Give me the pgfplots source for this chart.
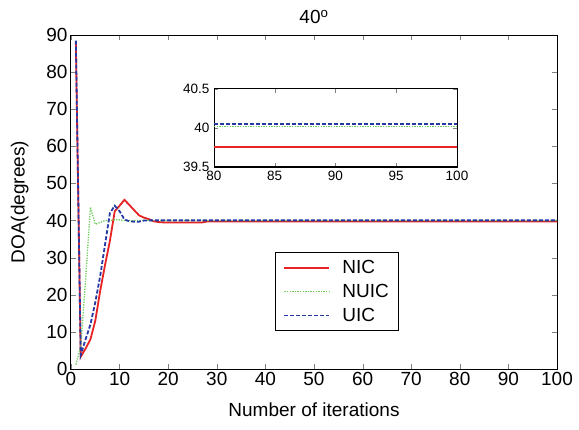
\documentclass[border=0pt]{standalone}
\usepackage{pgfplots}
\pgfplotsset{compat=1.18}
\usepackage{fontspec}
\setmainfont{Liberation Sans}
\definecolor{cred}{RGB}{232,35,35}
\definecolor{cgreen}{RGB}{110,205,90}
\definecolor{cblue}{RGB}{35,55,165}
\begin{document}
\begin{tikzpicture}
\begin{axis}[name=main,
  scale only axis, width=486pt, height=334pt,
  xmin=0, xmax=100, ymin=0, ymax=90,
  xtick={0,10,...,100}, ytick={0,10,...,90},
  tick align=inside, major tick length=5pt,
  xtick pos=both, ytick pos=both,
  axis line style={line width=1pt},
  /pgf/number format/assume math mode=true,
  tick label style={font=\fontsize{19}{22}\selectfont},
  label style={font=\fontsize{19}{22}\selectfont},
  title style={font=\fontsize{19}{22}\selectfont, yshift=2pt},
  title={40\textsuperscript{o}},
  xlabel={Number of iterations},
  ylabel={DOA(degrees)},
  xlabel shift=10pt,
  ylabel shift=11pt,
  legend style={at={(0.42,0.35)}, anchor=north west, font=\fontsize{19}{22}\selectfont, draw=black, line width=0.8pt, row sep=5pt, inner xsep=8pt, inner ysep=6pt,
    /tikz/every odd column/.append style={column sep=10pt}},
  legend cell align=left,
  legend image code/.code={\draw[#1] (0pt,0pt) -- (45pt,0pt);},
]
\addplot[color=cred, line width=1.8pt] coordinates {
(1,88) (2,3.3) (3,5.5) (4,8) (5,13) (6,21) (7,28) (8,34.5) (9,42.5) (10,44) (11,45.6) (12,44.2) (13,42.8) (14,41.4) (15,40.8) (16,40.4) (17,39.8) (18,39.6) (19,39.5) (27,39.5) (28,39.75) (100,39.75)};
\addlegendentry{NIC}
\addplot[color=cgreen, line width=1.3pt, dash pattern=on 1.3pt off 1.3pt] coordinates {
(1,1.2) (2,6) (3,24) (4,43.6) (5,39) (6,39.5) (7,40) (8,40) (9,40.2) (10,40.2) (11,40) (100,40.02)};
\addlegendentry{NUIC}
\addplot[color=cblue, line width=1.8pt, dash pattern=on 4pt off 2pt] coordinates {
(1,88.5) (2,3.8) (3,8) (4,12) (5,18) (6,25) (7,33.5) (8,42) (9,44) (10,42.5) (11,40.3) (12,39.8) (13,39.7) (14,39.7) (15,40) (16,40.05) (100,40.05)};
\addlegendentry{UIC}
\end{axis}
\begin{axis}[
  at={(main.south west)}, anchor=south west, xshift=143pt, yshift=202pt,
  scale only axis, width=243pt, height=78pt,
  xmin=80, xmax=100, ymin=39.5, ymax=40.5,
  xtick={80,85,...,100}, ytick={39.5,40,40.5},
  tick align=inside, major tick length=4pt,
  xtick pos=both, ytick pos=both,
  axis line style={line width=1pt},
  /pgf/number format/assume math mode=true,
  yticklabel style={/pgf/number format/fixed, /pgf/number format/precision=1, xshift=-1pt},
  xticklabel style={yshift=-1pt},
  tick label style={font=\fontsize{13.5}{16}\selectfont},
  axis background/.style={fill=white},
]
\addplot[color=cred, line width=2pt] coordinates {(80,39.75) (100,39.75)};
\addplot[color=cgreen, line width=1.3pt, dash pattern=on 1.3pt off 1.3pt] coordinates {(80,40.02) (100,40.02)};
\addplot[color=cblue, line width=1.8pt, dash pattern=on 4pt off 2pt] coordinates {(80,40.05) (100,40.05)};
\end{axis}
\pgfresetboundingbox
\path ([shift={(-71pt,-60pt)}]main.south west) rectangle ([shift={(22pt,35pt)}]main.north east);
\end{tikzpicture}
\end{document}
